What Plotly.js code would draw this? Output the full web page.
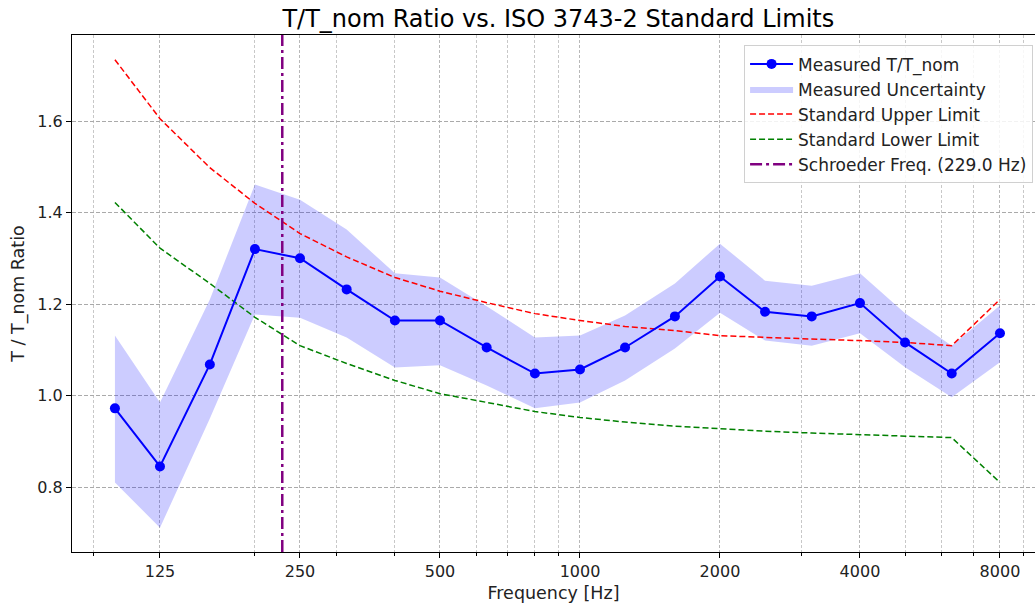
<!DOCTYPE html>
<html><head><meta charset="utf-8">
<script src="https://cdn.plot.ly/plotly-3.0.1.min.js"></script>
<style>html,body{margin:0;padding:0;overflow:hidden;background:#fff}</style>
</head><body><div id="chart" style="width:1035px;height:603px"></div>
<script>
const freqs = [100,125,160,200,250,315,400,500,630,800,1000,1250,1600,2000,2500,3150,4000,5000,6300,8000];
const measured = [0.972,0.845,1.068,1.320,1.300,1.232,1.164,1.164,1.105,1.048,1.057,1.105,1.173,1.260,1.183,1.173,1.202,1.116,1.048,1.136];
const uncUpper = [1.131,0.985,1.210,1.461,1.428,1.363,1.267,1.258,1.195,1.127,1.131,1.175,1.245,1.332,1.251,1.240,1.267,1.180,1.109,1.197];
const uncLower = [0.810,0.711,0.950,1.177,1.170,1.127,1.061,1.066,1.022,0.972,0.985,1.033,1.103,1.181,1.120,1.109,1.136,1.062,0.996,1.073];
const stdUpper = [1.734,1.605,1.498,1.420,1.354,1.303,1.258,1.228,1.203,1.179,1.164,1.151,1.142,1.131,1.127,1.124,1.120,1.116,1.109,1.210];
const stdLower = [1.422,1.322,1.245,1.171,1.109,1.070,1.033,1.004,0.985,0.965,0.952,0.942,0.933,0.927,0.922,0.918,0.914,0.911,0.908,0.810];
const schroederFreq = 229.0;
const xTickVals = [125,250,500,1000,2000,4000,8000];
const xTickText = ['125','250','500','1000','2000','4000','8000'];
const xMinorVals = [90,200,300,400,600,700,800,900,3000,5000,6000,7000,9000];
const yTickVals = [0.8,1.0,1.2,1.4,1.6];
const yRange = [0.658,1.788];
const xRangeLog = [1.9077,3.9784];

const FONT = 'DejaVu Sans, sans-serif';

const bandX = freqs.concat(freqs.slice().reverse());
const bandY = uncUpper.concat(uncLower.slice().reverse());

const traces = [
  {x: bandX, y: bandY, type:'scatter', mode:'lines', fill:'toself',
   fillcolor:'rgba(0,0,255,0.2)', line:{width:0, color:'rgba(0,0,255,0)'},
   name:'Measured Uncertainty', legendrank:2, hoverinfo:'skip'},
  {x: freqs, y: stdUpper, type:'scatter', mode:'lines', name:'Standard Upper Limit',
   line:{color:'red', width:1.5, dash:'6px,3px'}, legendrank:3},
  {x: freqs, y: stdLower, type:'scatter', mode:'lines', name:'Standard Lower Limit',
   line:{color:'green', width:1.5, dash:'6px,3px'}, legendrank:4},
  {x: [schroederFreq, schroederFreq], y: yRange, type:'scatter', mode:'lines',
   name:'Schroeder Freq. (' + schroederFreq.toFixed(1) + ' Hz)',
   line:{color:'purple', width:2.5, dash:'12px,4px,3px,4px'}, legendrank:5},
  {x: freqs, y: measured, type:'scatter', mode:'lines+markers', name:'Measured T/T_nom',
   line:{color:'blue', width:2}, marker:{color:'blue', size:10}, legendrank:1}
];

const layout = {
  width:1035, height:603,
  margin:{l:72, r:0, t:35, b:51},
  paper_bgcolor:'#fff', plot_bgcolor:'#fff',
  font:{family:FONT, size:16, color:'#000'},
  title:{text:'T/T_nom Ratio vs. ISO 3743-2 Standard Limits', font:{family:FONT, size:24, color:'#000'},
         xref:'paper', x:0.505, xanchor:'center', yref:'container', y:0.969, yanchor:'middle'},
  xaxis:{type:'log', range:xRangeLog, tickmode:'array', tickvals:xTickVals, ticktext:xTickText,
         ticks:'outside', ticklen:5, tickcolor:'#000', tickfont:{family:FONT, size:16, color:'#222'},
         showline:true, linecolor:'#000', linewidth:1, mirror:true, zeroline:false,
         showgrid:true, gridcolor:'#b8b8b8', griddash:'3px,2px', gridwidth:1,
         minor:{tickmode:'array', tickvals:xMinorVals, ticks:'outside', ticklen:3, tickcolor:'#000',
                showgrid:true, gridcolor:'#c8c8c8', griddash:'3px,2px', gridwidth:1},
         title:{text:'Frequency [Hz]', font:{family:FONT, size:17.5, color:'#222'}, standoff:8},
         automargin:false},
  yaxis:{range:yRange, tickmode:'array', tickvals:yTickVals, tickformat:'.1f',
         ticks:'outside', ticklen:5, tickcolor:'#000', tickfont:{family:FONT, size:16, color:'#222'},
         showline:true, linecolor:'#000', linewidth:1, mirror:false, zeroline:false,
         showgrid:true, gridcolor:'#aaaaaa', griddash:'4px,2px', gridwidth:1,
         title:{text:'T / T_nom Ratio', font:{family:FONT, size:17.5, color:'#222'}, standoff:8},
         automargin:false},
  legend:{x:0.998, y:0.98, xanchor:'right', yanchor:'top', bgcolor:'rgba(255,255,255,0.85)',
          bordercolor:'#d0d0d0', borderwidth:1, font:{family:FONT, size:17, color:'#222'},
          itemwidth:43, tracegroupgap:0},
  showlegend:true
};

Plotly.newPlot('chart', traces, layout, {displayModeBar:false, staticPlot:true});
</script>
</body></html>
